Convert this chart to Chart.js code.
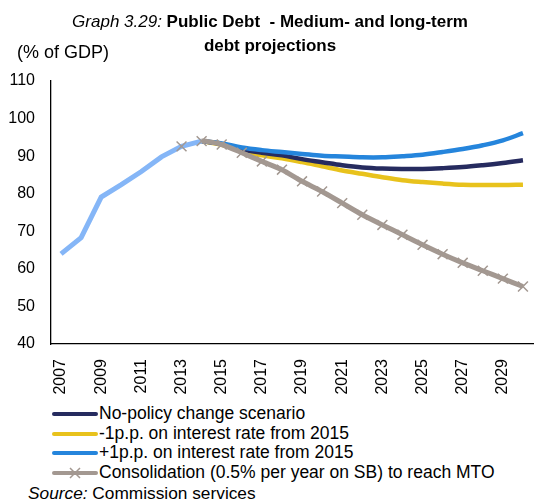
<!DOCTYPE html>
<html>
<head>
<meta charset="utf-8">
<script src="https://cdn.jsdelivr.net/npm/chart.js@4.4.1/dist/chart.umd.min.js"></script>
<style>
  body { margin: 0; background: #fff; font-family: "Liberation Sans", Arial, sans-serif; color: #000; }
  #wrap { position: relative; width: 534px; height: 503px; overflow: hidden; }
  #chart { position: absolute; left: 0; top: 0; }
  .title { position: absolute; left: 20px; width: 500px; top: 10px; text-align: center; font-size: 17px; line-height: 24px; }
  .title b { font-weight: bold; }
  .unit { position: absolute; left: 17px; top: 42px; font-size: 18px; }
  #legend { position: absolute; left: 52px; top: 404px; font-size: 17.5px; }
  .item { height: 19.7px; line-height: 19.7px; white-space: nowrap; display: flex; align-items: center; }
  .swatch { width: 46px; height: 4px; border-radius: 2px; margin-right: 1px; position: relative; flex: none; }
  .source { position: absolute; left: 28px; top: 483px; font-size: 17.3px; }
</style>
</head>
<body>
<div id="wrap">
  <canvas id="chart" width="534" height="400"></canvas>
  <div class="title"><i>Graph 3.29:</i> <b>Public Debt&nbsp; - Medium- and long-term<br>debt projections</b></div>
  <div class="unit">(% of GDP)</div>
  <div id="legend"></div>
  <div class="source"><i>Source:</i> Commission services</div>
</div>
<script>
// Years on the category axis
const years = [];
for (let y = 2007; y <= 2030; y++) years.push(String(y));

// Outturn 2007-2014 (no legend entry)
const history = [64.0, 68.3, 79.1, 82.4, 85.9, 89.8, 92.6, 94.0];

// Projections from 2014 onwards
const noPolicy = [94.0, 93.2, 91.8, 90.9, 90.2, 89.2, 88.4, 87.6, 87.0, 86.7, 86.6, 86.6, 86.8, 87.1, 87.6, 88.2, 88.9];
const rateMinus1 = [94.0, 93.0, 91.3, 90.2, 89.4, 88.4, 87.3, 86.2, 85.3, 84.4, 83.6, 83.1, 82.7, 82.4, 82.3, 82.3, 82.4];
const ratePlus1 = [94.0, 93.4, 92.3, 91.6, 91.1, 90.6, 90.1, 89.9, 89.7, 89.7, 90.0, 90.4, 91.1, 91.9, 92.9, 94.2, 96.1];
// Consolidation path starts at 2013
const consolidation = [92.6, 94.0, 93.1, 90.9, 88.6, 86.4, 83.3, 80.6, 77.5, 74.4, 71.7, 69.1, 66.4, 63.9, 61.6, 59.5, 57.4, 55.3];

const labels = {
  noPolicy: 'No-policy change scenario',
  minus1: '-1p.p. on interest rate from 2015',
  plus1: '+1p.p. on interest rate from 2015',
  consolidation: 'Consolidation (0.5% per year on SB) to reach MTO'
};

// pad a series with nulls so it lines up with the years array
const alignFrom = (startYear, values) => {
  const out = years.map(() => null);
  const offset = years.indexOf(String(startYear));
  values.forEach((v, i) => { out[offset + i] = v; });
  return out;
};

const GREY = '#a39891';

const datasets = [
  {
    label: labels.noPolicy,
    data: alignFrom(2014, noPolicy),
    borderColor: '#262b5f',
    borderWidth: 4.5,
    tension: 0.35,
    pointRadius: 0,
    order: 3
  },
  {
    label: labels.minus1,
    data: alignFrom(2014, rateMinus1),
    borderColor: '#e8c21c',
    borderWidth: 4.5,
    tension: 0.35,
    pointRadius: 0,
    order: 4
  },
  {
    label: labels.plus1,
    data: alignFrom(2014, ratePlus1),
    borderColor: '#2585dc',
    borderWidth: 4.5,
    tension: 0.35,
    pointRadius: 0,
    order: 2
  },
  {
    label: labels.consolidation,
    data: alignFrom(2013, consolidation),
    borderColor: GREY,
    borderWidth: 5,
    tension: 0.2,
    pointStyle: 'crossRot',
    pointRadius: 7,
    pointBorderWidth: 1.5,
    pointBorderColor: GREY,
    pointBackgroundColor: GREY,
    // 2013-2014 segment is covered by the outturn line
    segment: {
      borderColor: ctx => ctx.p0DataIndex < years.indexOf('2014') ? 'rgba(0,0,0,0)' : GREY
    },
    order: 0
  },
  {
    label: 'history',
    data: alignFrom(2007, history),
    borderColor: '#85b6f7',
    borderWidth: 5,
    tension: 0,
    pointRadius: 0,
    order: 1,
    hideInLegend: true
  }
];

const chart = new Chart(document.getElementById('chart'), {
  type: 'line',
  data: { labels: years, datasets: datasets },
  options: {
    responsive: false,
    animation: false,
    devicePixelRatio: 1,
    layout: { autoPadding: false, padding: { top: 81, left: 0, right: 1, bottom: 0 } },
    plugins: {
      legend: { display: false },
      tooltip: { enabled: false }
    },
    scales: {
      x: {
        offset: true,
        grid: { display: false, drawTicks: false },
        border: { color: '#000', width: 1.3 },
        afterFit: scale => {
          scale.height = 56;
          // rotated labels should not shrink the plot sideways
          scale.paddingLeft = 0;
          scale.paddingRight = 0;
        },
        ticks: {
          autoSkip: false,
          maxRotation: 90,
          minRotation: 90,
          padding: 15,
          color: '#000',
          font: { family: 'Liberation Sans', size: 16 },
          callback: function(value, index) {
            return index % 2 === 0 ? this.getLabelForValue(value) : '';
          }
        }
      },
      y: {
        min: 40,
        max: 110,
        grid: { display: false, drawTicks: false },
        border: { color: '#000', width: 1.3 },
        afterFit: scale => { scale.width = 51; },
        ticks: {
          stepSize: 10,
          padding: 16,
          color: '#000',
          font: { family: 'Liberation Sans', size: 16 }
        }
      }
    }
  }
});

// Legend built from the chart datasets, one entry per row
const legendEl = document.getElementById('legend');
chart.data.datasets.filter(ds => !ds.hideInLegend).forEach(ds => {
  const row = document.createElement('div');
  row.className = 'item';
  const sw = document.createElement('span');
  sw.className = 'swatch';
  sw.style.background = ds.borderColor;
  if (ds.pointStyle === 'crossRot') {
    sw.innerHTML = '<svg width="46" height="14" style="position:absolute;left:0;top:-5px"><path d="M18 2 L28 12 M28 2 L18 12" stroke="' + ds.borderColor + '" stroke-width="1.5"/></svg>';
  }
  row.appendChild(sw);
  const txt = document.createElement('span');
  txt.textContent = ds.label;
  row.appendChild(txt);
  legendEl.appendChild(row);
});
</script>
</body>
</html>
